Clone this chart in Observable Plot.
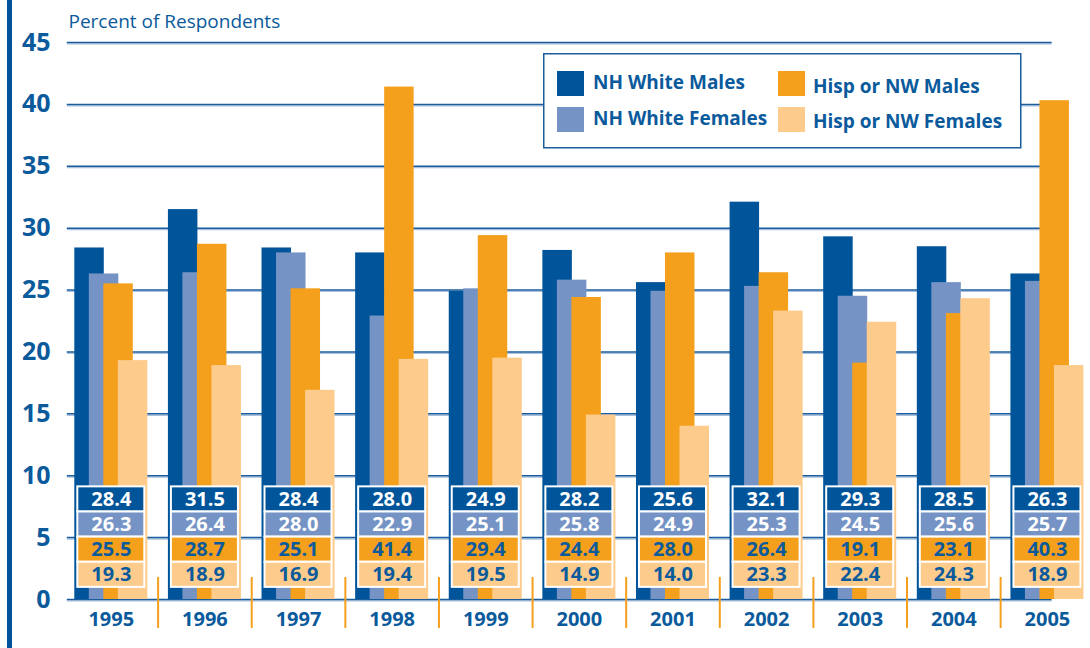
<!DOCTYPE html>
<html><head><meta charset="utf-8">
<script src="https://cdn.jsdelivr.net/npm/d3@7"></script>
<script src="https://cdn.jsdelivr.net/npm/@observablehq/plot@0.6"></script>
<style>
body{margin:0;background:#fff;}
#wrap{position:relative;width:1090px;height:648px;overflow:hidden;font-family:"Open Sans",sans-serif;}
#chart{position:absolute;left:0;top:0;}
#leftbar{position:absolute;left:7px;top:0;width:4.5px;height:648px;background:#00539B;}
#legend{position:absolute;left:543px;top:53px;}
</style></head><body>
<div id="wrap"><div id="chart"></div><div id="leftbar"></div><div id="legend"></div></div>
<script>
const years = ["1995","1996","1997","1998","1999","2000","2001","2002","2003","2004","2005"];
const series = ["NH White Males","NH White Females","Hisp or NW Males","Hisp or NW Females"];
const seriesColors = ["#00549A","#7594C5","#F5A01D","#FDCB8B"];
const labelColors = ["#FFFFFF","#FFFFFF","#0A5A9C","#0A5A9C"];
const nhWhiteMales   = [28.4,31.5,28.4,28.0,24.9,28.2,25.6,32.1,29.3,28.5,26.3];
const nhWhiteFemales = [26.3,26.4,28.0,22.9,25.1,25.8,24.9,25.3,24.5,25.6,25.7];
const hispNwMales    = [25.5,28.7,25.1,41.4,29.4,24.4,28.0,26.4,19.1,23.1,40.3];
const hispNwFemales  = [19.3,18.9,16.9,19.4,19.5,14.9,14.0,23.3,22.4,24.3,18.9];
const yTicks = [0,5,10,15,20,25,30,35,40,45];
const yLabel = "Percent of Respondents";

const blue = "#0A5A9C";
const allSeries = [nhWhiteMales, nhWhiteFemales, hispNwMales, hispNwFemales];
const table = [];
allSeries.forEach((vals, s) => vals.forEach((v, i) => table.push({i, year: years[i], s, series: series[s], value: v})));

// geometry (in x-scale units: one unit per year group)
const groupHalf = 0.39, barW = 0.315, barStep = 0.155;
const cellHalf = 0.358, cellTop = 9.1, cellH = 2.03;
const seps = d3.range(years.length - 1).map(i => i + 0.5);

const plot = Plot.plot({
  width: 1090, height: 648,
  marginLeft: 64, marginRight: 0, marginTop: 42, marginBottom: 49,
  x: {domain: [-0.5, 10.46], axis: null},
  y: {domain: [0, 45], axis: null},
  color: {domain: series, range: seriesColors},
  style: {fontFamily: '"Open Sans", sans-serif', overflow: "visible", background: "transparent"},
  marks: [
    Plot.ruleY(yTicks, {x1: -0.47, x2: 10.05, stroke: "#A9C0DE", strokeWidth: 1.3, dy: 1.4}),
    Plot.ruleY(yTicks, {x1: -0.47, x2: 10.05, stroke: "#1A5C9C", strokeWidth: 1.5}),
    Plot.rect(table, {
      x1: d => d.i - groupHalf + d.s * barStep,
      x2: d => d.i - groupHalf + d.s * barStep + barW,
      y1: 0, y2: "value", fill: "series"
    }),
    Plot.rect(table, {
      x1: d => d.i - cellHalf, x2: d => d.i + cellHalf,
      y1: d => cellTop - (d.s + 1) * cellH, y2: d => cellTop - d.s * cellH,
      fill: "series", stroke: "#FFFFFF", strokeWidth: 2
    }),
    Plot.text(table, {
      x: "i", y: d => cellTop - (d.s + 0.5) * cellH,
      text: d => d.value.toFixed(1),
      fill: d => labelColors[d.s], fontSize: 20, fontWeight: 700
    }),
    Plot.ruleX(seps, {x: d => d, y1: 1.78, y2: -2.34, stroke: "#F5A01D", strokeWidth: 2}),
    Plot.text(yTicks, {x: -0.5, y: d => d, text: d => String(d), textAnchor: "end", dx: -14, fontSize: 25, fontWeight: 700, fill: blue}),
    Plot.text(years, {x: (d, i) => i, y: 0, text: d => d, dy: 20.5, fontSize: 20, fontWeight: 700, fill: blue}),
    Plot.text([yLabel], {frameAnchor: "top-left", textAnchor: "start", lineAnchor: "middle", dx: 4, dy: -21, fontSize: 19, fill: blue})
  ]
});
document.getElementById("chart").appendChild(plot);

// legend
const lg = d3.select("#legend").append("svg").attr("width", 480).attr("height", 97);
lg.append("rect").attr("x", 0.75).attr("y", 0.75).attr("width", 477).attr("height", 94)
  .attr("fill", "#fff").attr("stroke", "#1A5C9C").attr("stroke-width", 1.5);
const pos = [
  {sx: 14, sy: 18, tx: 50, ty: 36},
  {sx: 14, sy: 54, tx: 50, ty: 72},
  {sx: 235, sy: 18, tx: 270, ty: 39.5},
  {sx: 235, sy: 54, tx: 270, ty: 75}
];
series.forEach((name, k) => {
  const p = pos[k];
  lg.append("rect").attr("x", p.sx).attr("y", p.sy).attr("width", 27).attr("height", 25).attr("fill", seriesColors[k]);
  lg.append("text").attr("x", p.tx).attr("y", p.ty).attr("fill", blue)
    .attr("font-family", '"Open Sans", sans-serif').attr("font-weight", 700).attr("font-size", 19).text(name);
});
</script>
</body></html>
